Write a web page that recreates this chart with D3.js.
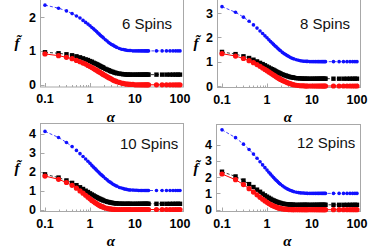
<!DOCTYPE html>
<html><head><meta charset="utf-8">
<script src="https://cdn.jsdelivr.net/npm/d3@7"></script>
<style>body{margin:0;background:#fff}svg{display:block}</style>
</head><body>
<svg id="c" width="382" height="250"></svg>
<script>
// ---------- data ----------
const alpha = [0.1,0.2,0.3,0.4,0.5,0.6,0.7,0.8,0.9,1,1.1,1.2,1.3,1.4,1.5,1.6,1.7,1.8,1.9,2,2.2,2.4,2.6,2.8,3,3.25,3.5,3.75,4,4.5,5,5.5,6,6.5,7,7.5,8,9,10,11,12,13,14,15,16,17,18,19,20,30,40,50,60,70,80,90,100];
const xTicks = [0.1,1,10,100];
const xTickLabels = ["0.1","1","10","100"];
const panelTitles = ["6 Spins","8 Spins","10 Spins","12 Spins"];
const yTicks6 = [0,1,2];
const yTicks8 = [0,1,2,3];
const yTicks10 = [0,1,2,3,4];
const yTicks12 = [0,1,2,3,4];

const blue6 = [2.35,2.26,2.18,2.10,2.03,1.97,1.90,1.84,1.79,1.74,1.69,1.65,1.61,1.57,1.53,1.50,1.46,1.43,1.41,1.38,1.33,1.29,1.25,1.22,1.19,1.17,1.14,1.12,1.10,1.07,1.05,1.04,1.03,1.02,1.01,1.01,1.01,1.00,1.00,1.00,1.00,1.00,1.00,1.00,1.00,1.00,1.00,1.00,1.00,1.00,1.00,1.00,1.00,1.00,1.00,1.00,1.00];
const black6 = [0.96,0.93,0.90,0.87,0.84,0.81,0.78,0.75,0.73,0.70,0.68,0.65,0.63,0.61,0.59,0.57,0.55,0.53,0.52,0.50,0.47,0.45,0.43,0.41,0.39,0.38,0.36,0.35,0.34,0.33,0.32,0.31,0.31,0.30,0.30,0.30,0.30,0.30,0.30,0.30,0.30,0.30,0.30,0.30,0.30,0.30,0.30,0.30,0.30,0.30,0.30,0.30,0.30,0.30,0.30,0.30,0.30];
const red6 = [0.91,0.86,0.81,0.77,0.72,0.68,0.64,0.61,0.57,0.54,0.51,0.48,0.45,0.43,0.40,0.38,0.36,0.34,0.32,0.30,0.27,0.24,0.21,0.19,0.17,0.14,0.12,0.11,0.09,0.07,0.05,0.04,0.03,0.02,0.02,0.01,0.01,0.01,0,0,0,0,0,0,0,0,0,0,0,0,0,0,0,0,0,0,0];

const blue8 = [3.26,3.03,2.83,2.66,2.51,2.38,2.26,2.16,2.06,1.98,1.90,1.83,1.77,1.71,1.65,1.61,1.56,1.52,1.48,1.45,1.38,1.33,1.29,1.25,1.22,1.18,1.15,1.13,1.11,1.08,1.06,1.04,1.03,1.02,1.02,1.01,1.01,1.00,1.00,1.00,1.00,1.00,1.00,1.00,1.00,1.00,1.00,1.00,1.00,1.00,1.00,1.00,1.00,1.00,1.00,1.00,1.00];
const black8 = [1.40,1.31,1.22,1.15,1.08,1.01,0.95,0.90,0.85,0.80,0.76,0.72,0.69,0.66,0.63,0.60,0.57,0.55,0.53,0.51,0.48,0.45,0.43,0.41,0.39,0.37,0.36,0.35,0.34,0.32,0.32,0.31,0.31,0.30,0.30,0.30,0.30,0.30,0.30,0.30,0.30,0.30,0.30,0.30,0.30,0.30,0.30,0.30,0.30,0.30,0.30,0.30,0.30,0.30,0.30,0.30,0.30];
const red8 = [1.33,1.23,1.13,1.04,0.96,0.88,0.81,0.74,0.68,0.63,0.58,0.53,0.49,0.45,0.42,0.38,0.35,0.32,0.30,0.27,0.23,0.20,0.17,0.14,0.12,0.10,0.08,0.06,0.05,0.03,0.02,0.01,0.01,0.01,0,0,0,0,0,0,0,0,0,0,0,0,0,0,0,0,0,0,0,0,0,0,0];

const blue10 = [4.11,3.79,3.53,3.31,3.11,2.94,2.79,2.66,2.54,2.43,2.32,2.23,2.15,2.07,2.00,1.93,1.87,1.82,1.77,1.72,1.63,1.56,1.49,1.44,1.39,1.33,1.29,1.25,1.22,1.16,1.13,1.10,1.07,1.06,1.04,1.03,1.03,1.02,1.01,1.01,1.00,1.00,1.00,1.00,1.00,1.00,1.00,1.00,1.00,1.00,1.00,1.00,1.00,1.00,1.00,1.00,1.00];
const black10 = [1.85,1.68,1.53,1.40,1.28,1.17,1.08,0.99,0.92,0.85,0.79,0.74,0.69,0.65,0.61,0.58,0.55,0.52,0.50,0.47,0.44,0.41,0.39,0.37,0.36,0.34,0.33,0.32,0.32,0.31,0.31,0.30,0.30,0.30,0.30,0.30,0.30,0.30,0.30,0.30,0.30,0.30,0.30,0.30,0.30,0.30,0.30,0.30,0.30,0.30,0.30,0.30,0.30,0.30,0.30,0.30,0.30];
const red10 = [1.76,1.59,1.42,1.27,1.12,0.98,0.86,0.75,0.65,0.56,0.48,0.42,0.36,0.31,0.26,0.22,0.19,0.16,0.14,0.12,0.08,0.06,0.04,0.03,0.02,0.01,0.01,0,0,0,0,0,0,0,0,0,0,0,0,0,0,0,0,0,0,0,0,0,0,0,0,0,0,0,0,0,0];

const blue12 = [4.90,4.42,4.02,3.69,3.41,3.16,2.94,2.75,2.58,2.43,2.30,2.18,2.07,1.97,1.88,1.81,1.74,1.67,1.61,1.56,1.47,1.39,1.33,1.28,1.24,1.19,1.16,1.13,1.10,1.07,1.05,1.03,1.02,1.02,1.01,1.01,1.00,1.00,1.00,1.00,1.00,1.00,1.00,1.00,1.00,1.00,1.00,1.00,1.00,1.00,1.00,1.00,1.00,1.00,1.00,1.00,1.00];
const black12 = [2.33,2.04,1.79,1.57,1.39,1.23,1.10,0.98,0.88,0.80,0.73,0.67,0.61,0.57,0.53,0.50,0.47,0.44,0.42,0.41,0.38,0.36,0.34,0.33,0.32,0.32,0.31,0.31,0.30,0.30,0.30,0.30,0.30,0.30,0.30,0.30,0.30,0.30,0.30,0.30,0.30,0.30,0.30,0.30,0.30,0.30,0.30,0.30,0.30,0.30,0.30,0.30,0.30,0.30,0.30,0.30,0.30];
const red12 = [2.19,1.84,1.54,1.29,1.08,0.91,0.76,0.64,0.54,0.45,0.38,0.32,0.26,0.22,0.19,0.16,0.13,0.11,0.09,0.08,0.05,0.04,0.03,0.02,0.01,0.01,0.01,0,0,0,0,0,0,0,0,0,0,0,0,0,0,0,0,0,0,0,0,0,0,0,0,0,0,0,0,0,0];

// ---------- layout ----------
const panels = [
  {title: panelTitles[0], yTicks: yTicks6,  blue: blue6,  black: black6,  red: red6,
   frame: [40, 183, -1, 86.5], xr: [45, 180], yd: [0, 2], yr: [84.8, 17],   tx: 122, ty: 29,  fx: 17,  fy: 48,  ay: 122},
  {title: panelTitles[1], yTicks: yTicks8,  blue: blue8,  black: black8,  red: red8,
   frame: [217, 360, -1, 87], xr: [222, 357], yd: [0, 3], yr: [86, 13],      tx: 300, ty: 29,  fx: 196, fy: 48,  ay: 122},
  {title: panelTitles[2], yTicks: yTicks10, blue: blue10, black: black10, red: red10,
   frame: [40, 183, 123, 211], xr: [45, 180], yd: [0, 4], yr: [209.5, 133.5], tx: 120, ty: 149, fx: 17,  fy: 173, ay: 246},
  {title: panelTitles[3], yTicks: yTicks12, blue: blue12, black: black12, red: red12,
   frame: [216, 360, 124, 211], xr: [222, 357], yd: [0, 4], yr: [209.7, 144.5], tx: 297, ty: 148, fx: 196, fy: 173, ay: 246}
];

const svg = d3.select("#c");
const FRAME = "#a8a8a8";

panels.forEach(p => {
  const g = svg.append("g");
  const x = d3.scaleLog().domain([0.1, 100]).range(p.xr);
  const y = d3.scaleLinear().domain(p.yd).range(p.yr);
  const [fx0, fx1, fy0, fy1] = p.frame;

  g.append("rect").attr("x", fx0 + 0.5).attr("y", fy0 + 0.5)
    .attr("width", fx1 - fx0).attr("height", fy1 - fy0)
    .attr("fill", "none").attr("stroke", FRAME).attr("stroke-width", 1);

  const minor = [];
  for (let e = -1; e < 2; e++) for (let k = 2; k <= 9; k++) minor.push(k * Math.pow(10, e));
  g.selectAll(".mx").data(minor).enter().append("line")
    .attr("x1", d => Math.round(x(d)) + 0.5).attr("x2", d => Math.round(x(d)) + 0.5)
    .attr("y1", fy1 + 0.5).attr("y2", fy1 - 1.5).attr("stroke", FRAME);
  g.selectAll(".Mx").data(xTicks).enter().append("line")
    .attr("x1", d => Math.round(x(d)) + 0.5).attr("x2", d => Math.round(x(d)) + 0.5)
    .attr("y1", fy1 + 0.5).attr("y2", fy1 - 3.5).attr("stroke", FRAME);
  g.selectAll(".My").data(p.yTicks).enter().append("line")
    .attr("y1", d => Math.round(y(d)) + 0.5).attr("y2", d => Math.round(y(d)) + 0.5)
    .attr("x1", fx0 + 0.5).attr("x2", fx0 + 4.5).attr("stroke", FRAME);

  g.selectAll(".xl").data(xTicks).enter().append("text")
    .attr("x", d => x(d)).attr("y", fy1 + 16.5)
    .attr("text-anchor", "middle")
    .style("font", "bold 12.5px 'Liberation Sans', Arial, sans-serif")
    .text((d, i) => xTickLabels[i]);
  g.selectAll(".yl").data(p.yTicks).enter().append("text")
    .attr("x", fx0 - 4).attr("y", d => y(d) + 4.5)
    .attr("text-anchor", "end")
    .style("font", "bold 12.5px 'Liberation Sans', Arial, sans-serif")
    .text(d => d);

  g.append("text").attr("x", (fx0 + fx1) / 2 - 0.5).attr("y", p.ay)
    .attr("text-anchor", "middle")
    .style("font", "italic bold 15px 'Liberation Serif', serif")
    .text("α");
  g.append("text").attr("x", p.fx).attr("y", p.fy)
    .attr("text-anchor", "middle")
    .style("font", "italic bold 15px 'Liberation Serif', serif")
    .text("f\u0303");

  g.append("text").attr("x", p.tx).attr("y", p.ty)
    .style("font", "15px 'Liberation Sans', Arial, sans-serif")
    .attr("fill", "#111")
    .text(p.title);

  const line = vals => d3.line().x((d, i) => x(alpha[i])).y(d => y(d))(vals);

  g.append("path").attr("d", line(p.blue)).attr("fill", "none")
    .attr("stroke", "#1010ff").attr("stroke-width", 0.8).attr("stroke-dasharray", "3,2");
  g.selectAll(".b").data(p.blue).enter().append("circle")
    .attr("cx", (d, i) => x(alpha[i])).attr("cy", d => y(d)).attr("r", 1.8).attr("fill", "#1010ff");

  g.append("path").attr("d", line(p.black)).attr("fill", "none")
    .attr("stroke", "#000").attr("stroke-width", 0.8).attr("stroke-dasharray", "3,2");
  g.selectAll(".k").data(p.black).enter().append("rect")
    .attr("x", (d, i) => x(alpha[i]) - 2.2).attr("y", d => y(d) - 2.2)
    .attr("width", 4.4).attr("height", 4.4).attr("fill", "#000");

  g.append("path").attr("d", line(p.red)).attr("fill", "none")
    .attr("stroke", "#ff0000").attr("stroke-width", 1);
  g.selectAll(".r").data(p.red).enter().append("circle")
    .attr("cx", (d, i) => x(alpha[i])).attr("cy", d => y(d)).attr("r", 2.6).attr("fill", "#ff1010");
});
</script>
</body></html>
